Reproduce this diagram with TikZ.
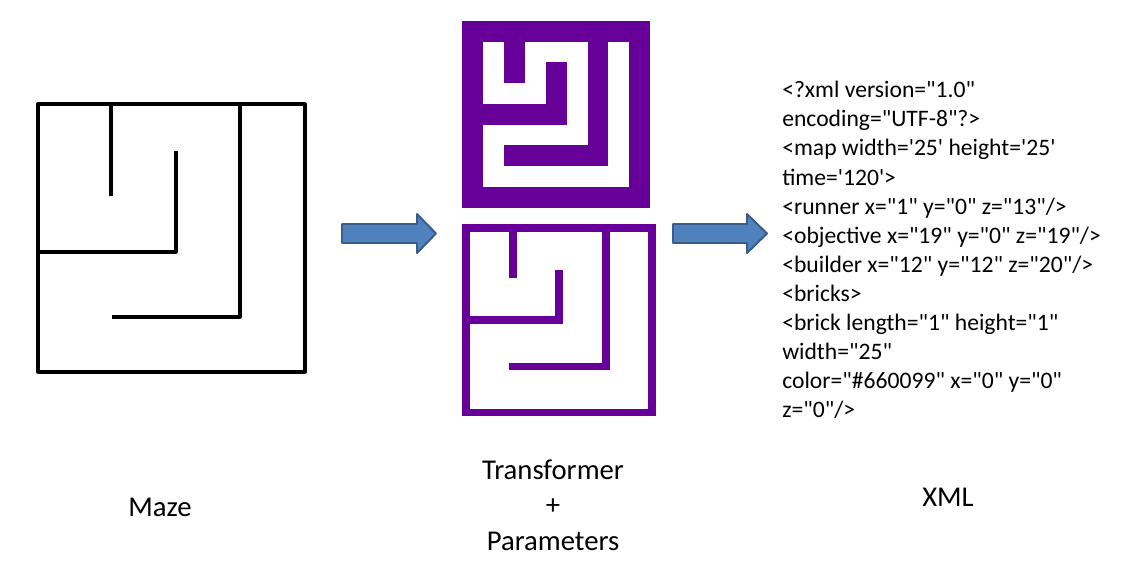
\documentclass[tikz,border=0pt]{standalone}
\usepackage{fontspec}
\setmainfont{Carlito}[Ligatures=TeXOff]
\usepackage{xcolor}
\usepackage{tikz}
\usetikzlibrary{positioning}

\definecolor{mazepurple}{HTML}{660099}
\definecolor{arrowfill}{HTML}{4F81BD}
\definecolor{arrowline}{HTML}{385D8A}

\begin{document}
\begin{tikzpicture}[x=0.025cm, y=-0.025cm,
  blackwall/.style={line width=2.3pt, line join=round, black},
  thinwall/.style={line width=5.5pt, line cap=rect, mazepurple},
  bluearrow/.style={fill=arrowfill, draw=arrowline, line width=1.4pt, line join=round},
  caption/.style={font=\fontsize{20.4}{25.3}\selectfont, align=center},
  xmltext/.style={font=\fontsize{16.8}{20.7}\selectfont, align=left, inner sep=0pt, anchor=north west}]
\useasboundingbox (0,0) rectangle (1128,567);

% maze drawn with lines
\draw[blackwall] (38,104) rectangle (305,372);
\draw[blackwall] (111,104) -- (111,196);
\draw[blackwall] (176,151) -- (176,252) -- (38,252);
\draw[blackwall] (240,104) -- (240,317) -- (112,317);

% first arrow
\draw[bluearrow] (342,224) -- (417,224) -- (417,214) -- (436,233.5) -- (417,253)
  -- (417,243) -- (342,243) -- cycle;

% block maze
\begin{scope}[xshift=11.5575cm, yshift=-0.525cm, x=0.52125cm, y=-0.5185cm]
\fill[mazepurple] (0,0) rectangle (9,9);
\fill[white] (1,1) rectangle (2,4);
\fill[white] (1,3) rectangle (4,4);
\fill[white] (3,1) rectangle (4,4);
\fill[white] (3,1) rectangle (6,2);
\fill[white] (5,1) rectangle (6,6);
\fill[white] (1,5) rectangle (6,6);
\fill[white] (1,5) rectangle (2,8);
\fill[white] (1,7) rectangle (8,8);
\fill[white] (7,1) rectangle (8,8);
\end{scope}

% wall maze
\begin{scope}[xshift=11.65cm, yshift=-5.7cm, x=1.1625cm, y=-1.1525cm]
\draw[thinwall] (0,0) rectangle (4,4);
\draw[thinwall] (1,0) -- (1,1);
\draw[thinwall] (2,1) -- (2,2) -- (0,2);
\draw[thinwall] (3,0) -- (3,3) -- (1,3);
\end{scope}

% second arrow
\draw[bluearrow] (673,224) -- (747,224) -- (747,214) -- (767,233.5) -- (747,253)
  -- (747,243) -- (673,243) -- cycle;

% xml output
\node[xmltext] (xml) at (782,81) {<?xml version="1.0"\\
encoding="UTF-8"?>\\
<map width='25' height='25'\\
time='120'>\\
<runner x="1" y="0" z="13"/>\\
<objective x="19" y="0" z="19"/>\\
<builder x="12" y="12" z="20"/>\\
<bricks>\\
<brick length="1" height="1"\\
width="25"\\
color="\#660099" x="0" y="0"\\
z="0"/>};

% captions
\node[caption] (maze) at (160,507) {Maze};
\node[caption] (transformer) at (553,505) {Transformer\\+\\Parameters};
\node[caption] (xmllabel) at (948,497) {XML};

\end{tikzpicture}
\end{document}
